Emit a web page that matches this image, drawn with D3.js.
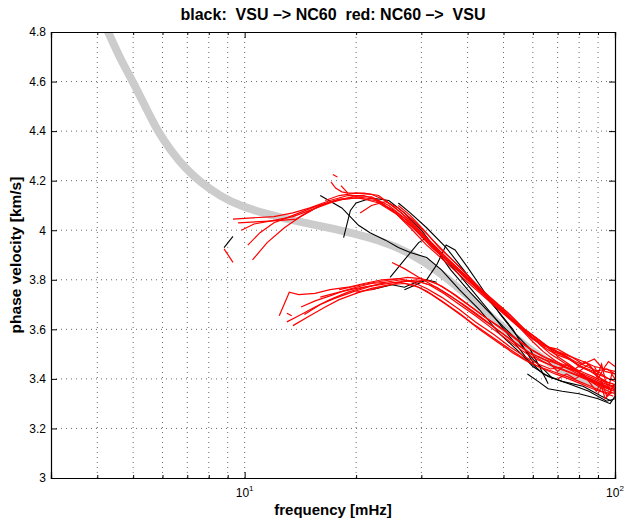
<!DOCTYPE html>
<html>
<head>
<meta charset="utf-8">
<script src="https://d3js.org/d3.v7.min.js"></script>
<style>
  body { margin: 0; background: #fff; }
  svg text { font-family: "Liberation Sans", Arial, Helvetica, sans-serif; }
</style>
</head>
<body>
<svg width="626" height="521"></svg>
<script>
// chart data
var chartTitle = "black:  VSU –> NC60  red: NC60 –>  VSU";
var xLabel = "frequency [mHz]";
var yLabel = "phase velocity [km/s]";
var xMajorTicks = [10, 100];
var xMinorTicks = [4, 5, 6, 7, 8, 9, 20, 30, 40, 50, 60, 70, 80, 90];
var yTicks = [3, 3.2, 3.4, 3.6, 3.8, 4, 4.2, 4.4, 4.6, 4.8];

// reference dispersion curve (gray)
var grayCurve = [[4.1, 4.86], [4.28, 4.8], [4.63, 4.687], [4.98, 4.602], [5.4, 4.497], [5.82, 4.40],
  [6.3, 4.324], [6.9, 4.251], [7.57, 4.195], [8.58, 4.138], [9.71, 4.098], [11.7, 4.061], [14.1, 4.033],
  [18.1, 4.001], [23.2, 3.96], [27.9, 3.91], [33.7, 3.831], [40.6, 3.727], [48.9, 3.618], [58.9, 3.517],
  [71, 3.436], [85.6, 3.384], [100, 3.355]];

// black: VSU -> NC60
var blackLines = [
  [[9.3, 3.975], [8.8, 3.93]],
  [[16, 4.14], [18.3, 4.09], [20.3, 4.02], [21.8, 3.99], [24, 3.96], [26, 3.93], [28, 3.91], [31, 3.89], [34, 3.84],
   [38, 3.76], [43, 3.68], [49, 3.58], [55, 3.51], [60, 3.45], [66, 3.41], [75, 3.38], [85, 3.35], [95, 3.31], [100, 3.32]],
  [[18.5, 3.97], [19.3, 4.08], [20, 4.11], [22, 4.13], [24.5, 4.12], [27, 4.07], [30, 4.0], [33, 3.92], [37, 3.84],
   [41, 3.76], [46, 3.67], [52, 3.57], [58, 3.48], [64, 3.42], [72, 3.39], [82, 3.37], [92, 3.33], [98, 3.31]],
  [[24.7, 3.81], [27, 3.88], [29.5, 3.95], [31, 3.97], [33, 3.92], [36, 3.84], [40, 3.76], [45, 3.68], [50, 3.61],
   [55, 3.55], [60, 3.48], [64, 3.44], [68, 3.40]],
  [[27, 3.76], [29, 3.78], [31, 3.80], [33, 3.86], [35, 3.94], [37, 3.92], [40, 3.85], [44, 3.76], [49, 3.66],
   [54, 3.58], [59, 3.52], [63, 3.44], [66, 3.38]],
  [[26, 4.11], [28, 4.07], [31, 4.01], [35, 3.93], [39, 3.84], [43, 3.76], [48, 3.68], [53, 3.60], [57, 3.52], [61, 3.45]],
  [[22, 3.76], [25, 3.78], [27, 3.77], [29, 3.79], [31, 3.80], [33, 3.79]],
  [[58, 3.42], [62, 3.39], [66, 3.36], [72, 3.35], [80, 3.34], [90, 3.32], [97, 3.30], [100, 3.33]]
];

// red: NC60 -> VSU
var redLines = [
  [[9.3, 4.045], [10.5, 4.05], [12, 4.055], [13.5, 4.07], [15, 4.09], [17, 4.12], [19, 4.14], [21, 4.14], [23, 4.12],
   [25.5, 4.07], [28, 4.01], [31, 3.94], [35, 3.87], [40, 3.79], [46, 3.71], [52, 3.64], [58, 3.58], [64, 3.54],
   [70, 3.51], [76, 3.49], [82, 3.46], [88, 3.48], [94, 3.43], [100, 3.42]],
  [[9.6, 4.03], [11, 4.035], [12.5, 4.04], [13.8, 4.045], [14.3, 4.06], [16, 4.10], [18, 4.125], [20, 4.135],
   [22.5, 4.125], [25, 4.08], [28, 4.02], [31, 3.955], [35, 3.88], [40, 3.80], [46, 3.72], [52, 3.65], [58, 3.59],
   [63, 3.55], [68, 3.51], [74, 3.49], [80, 3.45], [86, 3.43], [92, 3.40], [97, 3.38]],
  [[10.2, 3.94], [11, 3.99], [12, 4.03], [13.5, 4.06], [15.5, 4.095], [17.5, 4.12], [20, 4.13], [22.5, 4.12],
   [25, 4.085], [28, 4.03], [31, 3.965], [35, 3.89], [40, 3.81], [46, 3.73], [52, 3.66], [57, 3.60], [62, 3.56],
   [67, 3.52], [72, 3.50], [78, 3.47], [84, 3.45], [90, 3.43], [96, 3.40]],
  [[9.8, 4.00], [10.6, 4.025], [12, 4.04], [13.5, 4.055], [15, 4.08], [17, 4.11], [19.5, 4.135], [22, 4.135],
   [24.5, 4.10], [27, 4.05], [30, 3.98], [34, 3.90], [39, 3.82], [45, 3.74], [51, 3.67], [57, 3.60], [62, 3.56],
   [66, 3.53], [70, 3.49], [75, 3.46], [80, 3.43], [85, 3.46], [90, 3.41], [95, 3.38], [100, 3.36]],
  [[10.5, 3.88], [11.5, 3.95], [12.8, 4.01], [14, 4.05], [16, 4.10], [18, 4.125], [20.5, 4.13], [23, 4.11],
   [26, 4.06], [29, 4.00], [32, 3.93], [36, 3.865], [41, 3.785], [47, 3.705], [53, 3.635], [59, 3.575],
   [64, 3.53], [69, 3.50], [75, 3.48], [81, 3.45], [88, 3.43], [95, 3.44], [100, 3.42]],
  [[16.5, 4.12], [18, 4.14], [20, 4.15], [22, 4.145], [24, 4.12], [26.5, 4.07], [29.5, 4.00], [33, 3.92],
   [37, 3.85], [42, 3.77], [48, 3.69], [54, 3.62], [60, 3.56], [65, 3.53], [70, 3.52], [76, 3.49], [82, 3.47],
   [88, 3.45], [94, 3.44], [100, 3.43]],
  [[18.2, 4.18], [19, 4.15], [21, 4.15], [23, 4.14], [25, 4.10], [28, 4.04], [31, 3.97], [34, 3.91], [38, 3.84],
   [43, 3.76], [49, 3.68], [55, 3.61], [60, 3.55], [64, 3.51], [68, 3.48], [73, 3.45], [79, 3.43], [85, 3.40],
   [91, 3.38], [97, 3.36]],
  [[20.5, 4.07], [22, 4.10], [24, 4.115], [26, 4.09], [28.5, 4.04], [31.5, 3.975], [35, 3.905], [39, 3.835],
   [44, 3.755], [50, 3.675], [56, 3.605], [62, 3.545], [67, 3.50], [72, 3.47], [77, 3.44], [83, 3.41],
   [89, 3.39], [95, 3.37], [100, 3.355]],
  [[26, 4.10], [28, 4.06], [30.5, 4.00], [33.5, 3.93], [37, 3.87], [41, 3.80], [46, 3.72], [52, 3.645],
   [58, 3.58], [63, 3.54], [68, 3.52], [73, 3.49], [79, 3.46], [86, 3.43], [93, 3.41], [100, 3.39]],
  [[17.3, 4.225], [17.8, 4.215]],
  [[17.1, 4.195], [17.6, 4.17], [18.3, 4.155], [19, 4.15]],
  [[8.8, 3.925], [9.3, 3.87]],
  [[12.4, 3.655], [13.2, 3.75], [14, 3.74], [15.5, 3.745], [17, 3.76], [19, 3.77], [21, 3.785], [23.5, 3.80],
   [26, 3.805], [28.5, 3.79], [31, 3.765], [34, 3.73], [38, 3.68], [42, 3.63], [47, 3.58], [52, 3.53], [57, 3.49],
   [62, 3.46], [67, 3.44], [73, 3.45], [79, 3.43], [85, 3.40], [91, 3.38], [97, 3.36]],
  [[13.0, 3.63], [14, 3.655], [15.5, 3.69], [17, 3.72], [19, 3.75], [21, 3.77], [23.5, 3.785], [26, 3.79],
   [28.5, 3.78], [31, 3.755], [34, 3.715], [38, 3.665], [42, 3.615], [47, 3.565], [52, 3.52], [57, 3.48],
   [62, 3.45], [68, 3.43], [74, 3.41], [80, 3.39], [86, 3.37], [92, 3.35], [98, 3.34]],
  [[13.5, 3.615], [15, 3.655], [16.5, 3.69], [18, 3.72], [20, 3.745], [22, 3.765], [24.5, 3.78], [27, 3.785],
   [29.5, 3.77], [32, 3.74], [35, 3.70], [39, 3.65], [43, 3.60], [48, 3.55], [53, 3.505], [58, 3.47], [63, 3.445],
   [69, 3.42], [75, 3.40], [81, 3.38], [87, 3.36], [93, 3.345], [99, 3.33]],
  [[14.5, 3.66], [16, 3.70], [17.5, 3.725], [19.5, 3.75], [21.5, 3.77], [24, 3.79], [26.5, 3.80], [29, 3.795],
   [31.5, 3.78], [34.5, 3.745], [38, 3.70], [42, 3.655], [46, 3.61], [51, 3.56], [56, 3.515], [61, 3.48],
   [66, 3.46], [72, 3.44], [78, 3.42], [84, 3.40], [90, 3.37], [96, 3.35], [100, 3.34]],
  [[16, 3.73], [18, 3.75], [20, 3.765], [22, 3.775], [24.5, 3.785], [27, 3.795], [30, 3.79], [33, 3.77],
   [36, 3.735], [40, 3.685], [44, 3.64], [49, 3.59], [54, 3.545], [59, 3.505], [64, 3.48], [70, 3.46],
   [76, 3.44], [82, 3.42], [88, 3.40], [94, 3.38], [100, 3.37]],
  [[18, 3.76], [20, 3.775], [22.5, 3.79], [25, 3.80], [27.5, 3.81], [30, 3.805], [33, 3.785], [36, 3.75],
   [40, 3.70], [44, 3.655], [49, 3.605], [54, 3.56], [59, 3.52], [64, 3.49], [69, 3.47], [75, 3.45], [81, 3.43],
   [87, 3.41], [93, 3.39], [99, 3.38]],
  [[20, 3.75], [22, 3.76], [24, 3.775], [26.5, 3.79], [29, 3.80], [31.5, 3.795], [34, 3.775], [37, 3.74],
   [41, 3.69], [45, 3.645], [50, 3.60], [55, 3.555], [60, 3.515], [65, 3.485], [70, 3.46], [76, 3.435],
   [82, 3.41], [88, 3.385], [94, 3.365], [100, 3.35]],
  [[25, 3.87], [27, 3.845], [29.5, 3.81], [32, 3.78], [35, 3.745], [39, 3.70], [43, 3.655], [48, 3.60],
   [53, 3.55], [58, 3.51], [63, 3.475], [68, 3.45], [74, 3.43], [80, 3.41], [86, 3.39], [92, 3.37], [98, 3.355]],
  [[13.0, 3.665], [13.4, 3.655]],
  [[14.2, 3.69], [15.5, 3.715], [17, 3.735], [18.5, 3.755], [20, 3.77], [22, 3.785], [24, 3.79]],
  [[62, 3.49], [66, 3.47], [70, 3.43], [74, 3.46], [78, 3.44], [83, 3.47], [87, 3.44], [90, 3.40], [93, 3.44],
   [96, 3.47], [100, 3.45]],
  [[70, 3.40], [74, 3.42], [78, 3.40], [82, 3.42], [86, 3.38], [89, 3.35], [92, 3.39], [95, 3.33], [98, 3.36], [100, 3.38]],
  [[88, 3.45], [90, 3.42], [92, 3.46], [94, 3.40], [96, 3.36], [98, 3.42], [100, 3.40]],
  [[90, 3.34], [92, 3.37], [94, 3.32], [97, 3.34], [99, 3.38], [100, 3.33]]
];

// presets
var svg = d3.select("svg");
var margin = { top: 32, right: 11, bottom: 43, left: 51 },
  width = +svg.attr("width") - margin.left - margin.right,
  height = +svg.attr("height") - margin.top - margin.bottom;

var x = d3.scaleLog().domain([3, 100]).range([0, width]);
var y = d3.scaleLinear().domain([3, 4.8]).range([height, 0]);

var g = svg.append("g")
  .attr("transform", "translate(" + margin.left + "," + margin.top + ")");

svg.append("defs").append("clipPath").attr("id", "plot-clip")
  .append("rect").attr("width", width).attr("height", height);

// grid
var xGrid = xMinorTicks.concat([10]);
g.append("g").selectAll("line").data(xGrid).enter().append("line")
  .attr("x1", function(d) { return x(d); })
  .attr("x2", function(d) { return x(d); })
  .attr("y1", 0).attr("y2", height)
  .attr("stroke", "#444").attr("stroke-width", 0.8)
  .attr("stroke-dasharray", "1,4");
g.append("g").selectAll("line").data(yTicks.slice(1, -1)).enter().append("line")
  .attr("y1", function(d) { return y(d); })
  .attr("y2", function(d) { return y(d); })
  .attr("x1", 0).attr("x2", width)
  .attr("stroke", "#444").attr("stroke-width", 0.8)
  .attr("stroke-dasharray", "1,4");

// curves
var line = d3.line()
  .x(function(d) { return x(d[0]); })
  .y(function(d) { return y(d[1]); });

var plot = g.append("g").attr("clip-path", "url(#plot-clip)");

plot.append("path").datum(grayCurve)
  .attr("d", line.curve(d3.curveBasis))
  .attr("fill", "none").attr("stroke", "#cccccc").attr("stroke-width", 8);

line.curve(d3.curveLinear);

plot.append("g").selectAll("path").data(blackLines).enter().append("path")
  .attr("d", line)
  .attr("fill", "none").attr("stroke", "#000").attr("stroke-width", 1.1);

plot.append("g").selectAll("path").data(redLines).enter().append("path")
  .attr("d", line)
  .attr("fill", "none").attr("stroke", "#ff0000").attr("stroke-width", 1.2);

// axes
function noLabel() { return ""; }

g.append("g").attr("transform", "translate(0," + height + ")")
  .call(d3.axisBottom(x).tickValues(xMinorTicks).tickSize(-3).tickFormat(noLabel));
g.append("g").attr("transform", "translate(0," + height + ")")
  .call(d3.axisBottom(x).tickValues(xMajorTicks).tickSize(-6).tickFormat(noLabel));
g.append("g")
  .call(d3.axisTop(x).tickValues(xMinorTicks).tickSize(-3).tickFormat(noLabel));
g.append("g")
  .call(d3.axisTop(x).tickValues(xMajorTicks).tickSize(-6).tickFormat(noLabel));

g.append("g")
  .call(d3.axisLeft(y).tickValues(yTicks).tickSize(-6).tickPadding(5)
    .tickFormat(function(d) { return String(d); }));
g.append("g").attr("transform", "translate(" + width + ",0)")
  .call(d3.axisRight(y).tickValues(yTicks).tickSize(-6).tickFormat(noLabel));

g.selectAll(".domain").attr("stroke", "#000").attr("stroke-width", 1.2);
g.selectAll(".tick line").attr("stroke", "#000");
g.selectAll(".tick text").attr("font-size", 12).attr("fill", "#000")
  .style("font-family", "'Liberation Sans', Arial, sans-serif");

// x labels as powers of ten
var xl = g.append("g").selectAll("text").data(xMajorTicks).enter().append("text")
  .attr("x", function(d) { return x(d); })
  .attr("y", height + 19)
  .attr("text-anchor", "middle")
  .attr("font-size", 12);
xl.append("tspan").text("10");
xl.append("tspan").attr("dy", -6).attr("font-size", 8)
  .text(function(d) { return String(Math.round(Math.log10(d))); });

// title and axis labels
svg.append("text")
  .attr("x", margin.left + width / 2).attr("y", 20)
  .attr("text-anchor", "middle")
  .attr("font-size", 16).attr("font-weight", "bold")
  .style("white-space", "pre")
  .text(chartTitle);

svg.append("text")
  .attr("x", margin.left + width / 2).attr("y", 515)
  .attr("text-anchor", "middle")
  .attr("font-size", 15).attr("font-weight", "bold")
  .text(xLabel);

svg.append("text")
  .attr("transform", "translate(21," + (margin.top + height / 2) + ") rotate(-90)")
  .attr("text-anchor", "middle")
  .attr("font-size", 15.5).attr("font-weight", "bold")
  .text(yLabel);
</script>
</body>
</html>
